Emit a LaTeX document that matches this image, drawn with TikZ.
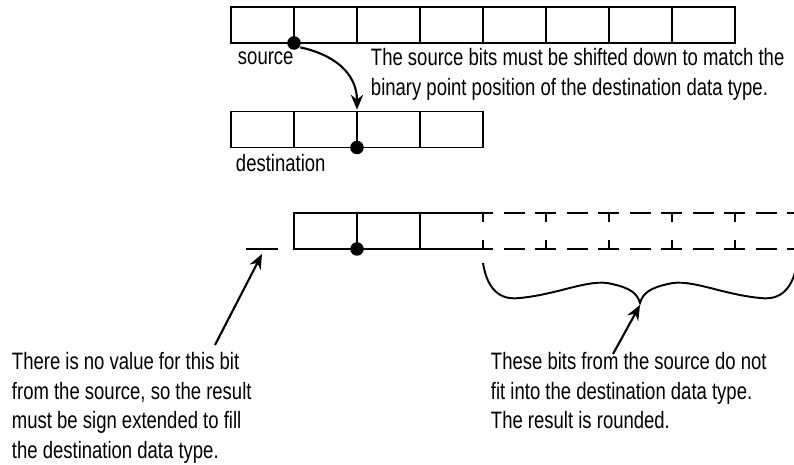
\documentclass[tikz,border=0pt]{standalone}
\usepackage{fontspec}
\setmainfont{Liberation Sans}[FakeStretch=0.78]
\usetikzlibrary{arrows.meta,calc,positioning}

\begin{document}
\begin{tikzpicture}[
    x=0.02cm,y=-0.02cm,
    font=\fontsize{13.5}{17}\selectfont,
    line width=1.1pt,
    cell/.style={draw,line width=1.1pt,minimum width=1.26cm,
      minimum height=0.72cm,inner sep=0pt,outer sep=0pt},
    ghost/.style={cell,draw=none},
    bitdot/.style={circle,fill,inner sep=0pt,minimum size=0.27cm},
    label/.style={anchor=base west,inner sep=0pt},
    note/.style={anchor=north west,align=left,inner sep=0pt},
    lost/.style={dash pattern=on 0.42cm off 0.21cm,dash phase=0.21cm},
    arr/.style={-{Stealth[length=8.5pt,width=7pt]},line width=1.2pt}
  ]
    \useasboundingbox (0,0) rectangle (794,465);
    \clip (0,0) rectangle (794,465);

    \node[cell] (src0) at (262.5,25) {};
    \foreach \i [count=\j from 0] in {1,...,7}
      \node[cell,right=0pt of src\j] (src\i) {};
    \node[bitdot] (sdot) at (src0.south east) {};
    \node[label] (srclabel) at (237,65) {source};
    \node[note] (shiftnote) at (370,47.5)
      {The source bits must be shifted down to match the\\
       binary point position of the destination data type.};

    \node[cell] (dst0) at (262.5,129.5) {};
    \foreach \i [count=\j from 0] in {1,...,3}
      \node[cell,right=0pt of dst\j] (dst\i) {};
    \node[bitdot] (ddot) at (dst1.south east) {};
    \node[label] (dstlabel) at (235,172) {destination};
    \draw[arr,shorten >=1pt] (sdot.-35) .. controls (332,54) and (357,72) .. (dst1.north east);

    \node[ghost] (res0) at (325.5,231) {};
    \foreach \i [count=\j from 0] in {1,...,7}
      \node[ghost,right=0pt of res\j] (res\i) {};
    \draw (res2.north east) -| (res0.south west) -- (res2.south east);
    \foreach \i in {0,1}
      \draw (res\i.north east) -- (res\i.south east);
    \draw[lost] (res2.north east) -- (res7.north east);
    \draw[lost] (res2.south east) -- (res7.south east);
    \foreach \i in {2,...,7} {
      \draw (res\i.north east) -- ++(0,9);
      \draw (res\i.south east) -- ++(0,-9);
    }
    \node[bitdot] (rdot) at (res0.south east) {};

    \coordinate (signbit) at (262,249);
    \draw ($(signbit)+(-16,0)$) -- ($(signbit)+(16,0)$);

    \coordinate (bracetip) at (640,303);
    \draw (483,263) .. controls (488,295) and (505,300) .. (520,298)
      .. controls (560,294) and (590,278) .. (612,284)
      .. controls (630,288) and (637,293) .. (bracetip)
      .. controls (643,293) and (650,288) .. (668,284)
      .. controls (690,278) and (720,294) .. (760,298)
      .. controls (775,300) and (792,295) .. (797,263);

    \node[note] (signnote) at (11,351)
      {There is no value for this bit\\
       from the source, so the result\\
       must be sign extended to fill\\
       the destination data type.};
    \node[note] (roundnote) at (490,351)
      {These bits from the source do not\\
       fit into the destination data type.\\
       The result is rounded.};

    \coordinate (signtail) at (215,345);
    \coordinate (roundtail) at (613,354);
    \draw[arr] (signtail) -- ($(signbit)+(0,5)$);
    \draw[arr] (roundtail) -- ($(bracetip)+(0,2)$);
  \end{tikzpicture}
\end{document}
